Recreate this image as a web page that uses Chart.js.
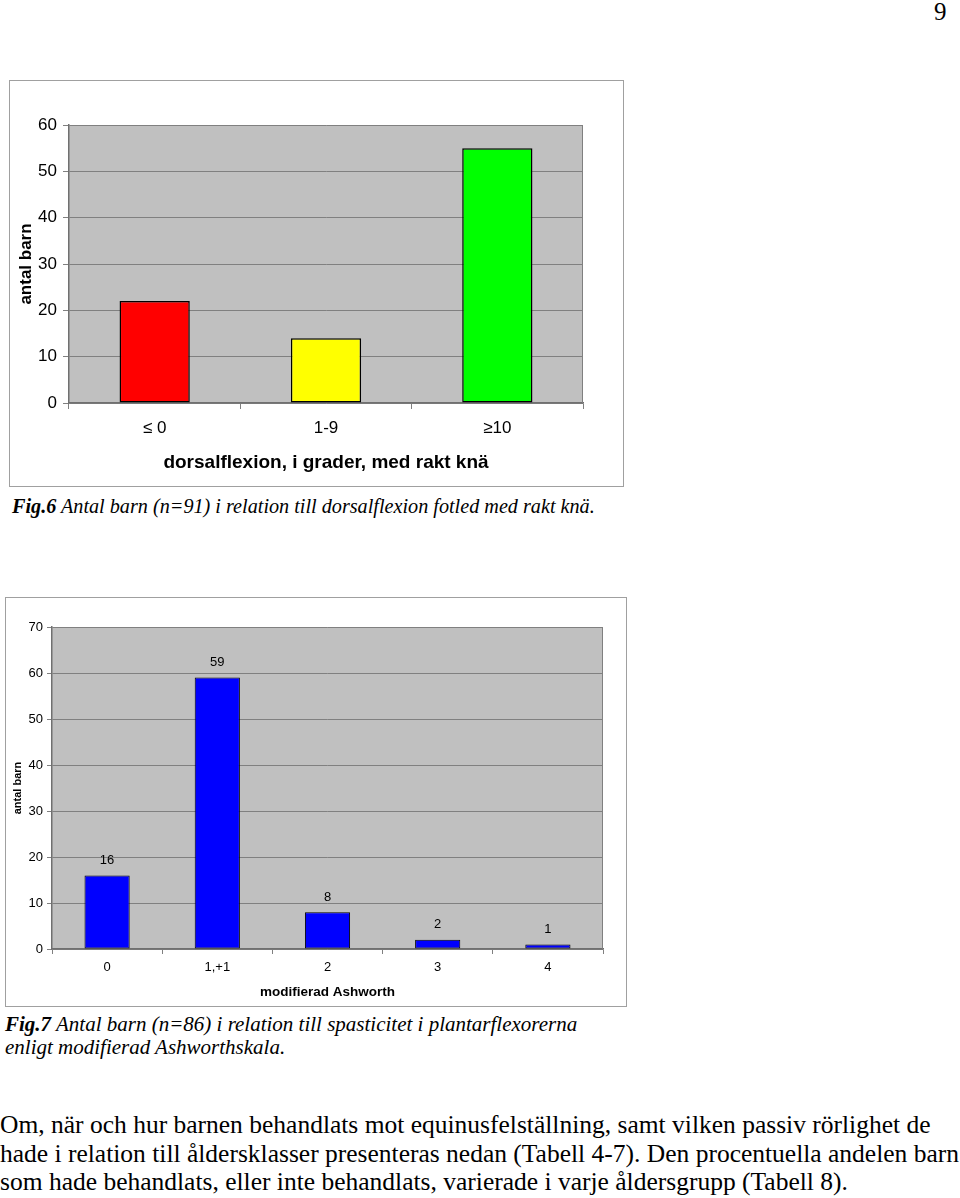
<!DOCTYPE html>
<html lang="sv">
  <head>
    <meta charset="UTF-8" />
    <title>Fig.6 och Fig.7</title>
    <style>
      body {
        margin: 0;
        width: 960px;
        height: 1198px;
        background: #ffffff;
        position: relative;
        overflow: hidden;
        font-family: "Liberation Serif", "Times New Roman", serif;
        color: #000;
      }
      .pagenr {
        position: absolute;
        left: 934px;
        top: -2px;
        font-size: 25px;
      }
      .frame {
        position: absolute;
        border: 1px solid #a0a0a0;
        background: #fff;
      }
      .frame canvas {
        display: block;
      }
      .caption {
        position: absolute;
        font-style: italic;
        font-size: 20.2px;
        line-height: 23px;
        white-space: nowrap;
      }
      .caption b {
        font-weight: bold;
      }
      .bodytext {
        position: absolute;
        left: 0;
        top: 1111px;
        font-size: 25.5px;
        line-height: 28.5px;
        white-space: nowrap;
      }
    </style>
  </head>
  <body>
    <div class="pagenr">9</div>

    <!-- Fig.6 -->
    <div class="frame" style="left: 9px; top: 80px; width: 613px; height: 405px">
      <canvas id="fig6" width="613" height="405"></canvas>
    </div>
    <div class="caption" style="left: 12px; top: 495px">
      <b>Fig.6</b> Antal barn (n=91) i relation till dorsalflexion fotled med rakt knä.
    </div>

    <!-- Fig.7 -->
    <div class="frame" style="left: 5px; top: 597px; width: 620px; height: 408px">
      <canvas id="fig7" width="620" height="408"></canvas>
    </div>
    <div class="caption" style="left: 5px; top: 1013px; font-size: 21px">
      <b>Fig.7</b> Antal barn (n=86) i relation till spasticitet i plantarflexorerna<br />
      enligt modifierad Ashworthskala.
    </div>

    <div class="bodytext">
      Om, när och hur barnen behandlats mot equinusfelställning, samt vilken passiv rörlighet de<br />
      hade i relation till åldersklasser presenteras nedan (Tabell 4-7). Den procentuella andelen barn<br />
      som hade behandlats, eller inte behandlats, varierade i varje åldersgrupp (Tabell 8).
    </div>

    <script src="https://cdn.jsdelivr.net/npm/chart.js"></script>
    <script>
      // Fig.6 - dorsalflexion
      const dorsiLabels = ["≤ 0", "1-9", "≥10"];
      const dorsiValues = [22, 14, 55];
      const dorsiColors = ["#ff0000", "#ffff00", "#00ff00"];

      // Fig.7 - modifierad Ashworth
      const ashLabels = ["0", "1,+1", "2", "3", "4"];
      const ashValues = [16, 59, 8, 2, 1];

      const SANS = "'Liberation Sans', Arial, sans-serif";

      // grey plot background + right edge like the old Excel charts
      const plotBackground = {
        id: "plotBackground",
        beforeDraw(chart) {
          const { ctx, chartArea: a } = chart;
          ctx.save();
          ctx.fillStyle = "#c0c0c0";
          ctx.fillRect(a.left, a.top, a.right - a.left, a.bottom - a.top);
          ctx.restore();
        },
        beforeDatasetsDraw(chart) {
          const { ctx, chartArea: a } = chart;
          ctx.save();
          ctx.strokeStyle = "#808080";
          ctx.lineWidth = 1;
          ctx.beginPath();
          ctx.moveTo(a.right - 0.5, a.top);
          ctx.lineTo(a.right - 0.5, a.bottom);
          ctx.stroke();
          ctx.restore();
        },
      };

      // value labels above the bars (Fig.7)
      const valueLabels = {
        id: "valueLabels",
        afterDatasetsDraw(chart, args, opts) {
          if (!opts.show) return;
          const { ctx } = chart;
          const meta = chart.getDatasetMeta(0);
          const data = chart.data.datasets[0].data;
          ctx.save();
          ctx.font = "13px " + SANS;
          ctx.fillStyle = "#000";
          ctx.textAlign = "center";
          ctx.textBaseline = "middle";
          meta.data.forEach((bar, i) => {
            ctx.fillText(String(data[i]), bar.x, bar.y - 15);
          });
          ctx.restore();
        },
      };

      function makeChart(id, cfg) {
        return new Chart(document.getElementById(id), {
          type: "bar",
          data: {
            labels: cfg.labels,
            datasets: [
              {
                data: cfg.values,
                backgroundColor: cfg.colors,
                borderColor: "#000000",
                borderWidth: cfg.barBorder,
                borderSkipped: false,
                barPercentage: cfg.barPct,
                categoryPercentage: 1,
              },
            ],
          },
          options: {
            responsive: false,
            animation: false,
            layout: { padding: cfg.padding },
            plugins: {
              legend: { display: false },
              tooltip: { enabled: false },
              valueLabels: { show: cfg.showValues },
            },
            scales: {
              x: {
                offset: true,
                grid: {
                  offset: true,
                  drawOnChartArea: false,
                  drawTicks: true,
                  tickLength: cfg.tick,
                  tickColor: "#808080",
                },
                border: { color: "#707070", width: 1.5 },
                ticks: {
                  color: "#000",
                  padding: cfg.xTickPad,
                  font: { family: SANS, size: cfg.tickFont },
                },
                title: {
                  display: true,
                  text: cfg.xTitle,
                  color: "#000",
                  font: { family: SANS, size: cfg.xTitleFont, weight: "bold" },
                  padding: { top: 0, bottom: cfg.xTitlePad },
                },
                afterFit(scale) {
                  scale.height = cfg.xHeight;
                },
              },
              y: {
                min: 0,
                max: cfg.yMax,
                ticks: {
                  stepSize: 10,
                  color: "#000",
                  padding: cfg.yTickPad,
                  font: { family: SANS, size: cfg.tickFont },
                },
                grid: {
                  color: "#808080",
                  lineWidth: 1,
                  tickLength: cfg.tick,
                  tickColor: "#808080",
                },
                border: { color: "#707070", width: 1.5 },
                title: {
                  display: true,
                  text: "antal barn",
                  color: "#000",
                  font: { family: SANS, size: cfg.yTitleFont, weight: "bold" },
                  padding: { top: cfg.yTitlePad, bottom: 0 },
                },
                afterFit(scale) {
                  scale.width = cfg.yWidth;
                },
              },
            },
          },
          plugins: [plotBackground, valueLabels],
        });
      }

      makeChart("fig6", {
        labels: dorsiLabels,
        values: dorsiValues,
        colors: dorsiColors,
        barBorder: 1.5,
        barPct: 0.41,
        padding: { top: 44, right: 40, left: 0, bottom: 0 },
        yMax: 60,
        tick: 6,
        tickFont: 17,
        xTickPad: 9,
        yTickPad: 6,
        xTitle: "dorsalflexion, i grader, med rakt knä",
        xTitleFont: 19,
        xTitlePad: 12,
        xHeight: 83,
        yTitleFont: 17,
        yTitlePad: 6,
        yWidth: 59,
        showValues: false,
      });

      makeChart("fig7", {
        labels: ashLabels,
        values: ashValues,
        colors: "#0000ff",
        barBorder: 1,
        barPct: 0.41,
        padding: { top: 29, right: 23, left: 0, bottom: 0 },
        yMax: 70,
        tick: 5,
        tickFont: 13,
        xTickPad: 6,
        yTickPad: 4,
        xTitle: "modifierad Ashworth",
        xTitleFont: 13.5,
        xTitlePad: 6,
        xHeight: 57,
        yTitleFont: 11,
        yTitlePad: 5,
        yWidth: 46,
        showValues: true,
      });
    </script>
  </body>
</html>
